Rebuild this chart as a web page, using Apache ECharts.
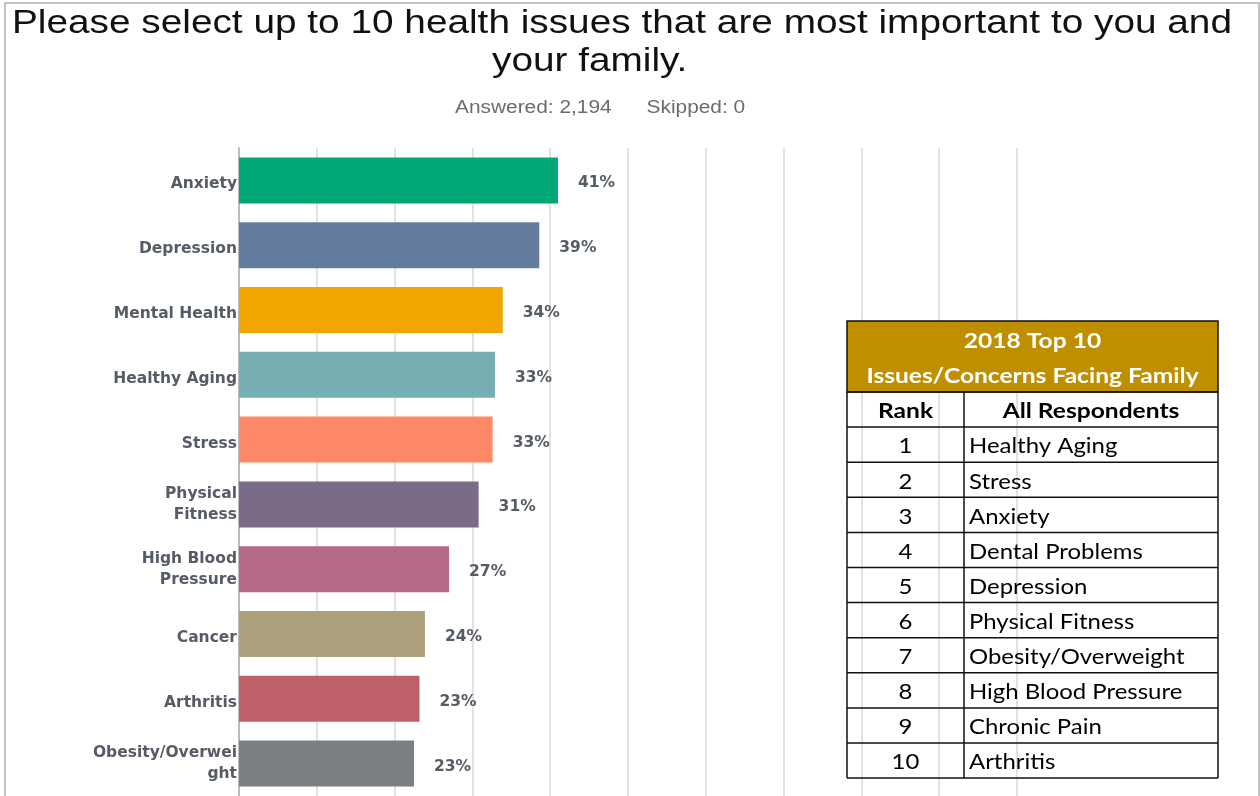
<!DOCTYPE html>
<html>
<head>
<meta charset="utf-8">
<script src="https://cdn.jsdelivr.net/npm/echarts@6/dist/echarts.min.js"></script>
<style>
html,body{margin:0;padding:0;background:#fff;}
#chart{width:1260px;height:796px;}
</style>
</head>
<body>
<div id="chart"></div>
<script>
// ---- data ----
var categories = ['Anxiety','Depression','Mental Health','Healthy Aging','Stress','Physical\nFitness','High Blood\nPressure','Cancer','Arthritis','Obesity/Overwei\nght'];
var values = [41.0, 38.6, 33.9, 32.9, 32.6, 30.8, 27.0, 23.9, 23.2, 22.5];
var barColors = ['#00a878','#647d9f','#f0a500','#76aeb2','#ff8866','#7c6b87','#b66a87','#ab9f7c','#bf616a','#7b8084'];
var titleLine1 = 'Please select up to 10 health issues that are most important to you and';
var titleLine2 = 'your family.';
var subtitle = 'Answered: 2,194      Skipped: 0';
var tableTitle1 = '2018 Top 10';
var tableTitle2 = 'Issues/Concerns Facing Family';
var tableHeaders = ['Rank','All Respondents'];
var ranks = ['1','2','3','4','5','6','7','8','9','10'];
var rankItems = ['Healthy Aging','Stress','Anxiety','Dental Problems','Depression','Physical Fitness','Obesity/Overweight','High Blood Pressure','Chronic Pain','Arthritis'];

// ---- table graphic ----
var tX0 = 847, tX1 = 1218, tXm = 964, tY0 = 321, tYh = 392, rowH = 35.1;
var g = [];
var tFont = 'Lato, "Open Sans", sans-serif';
// frame
g.push({type:'rect', shape:{x:5,y:3,width:1254,height:800}, style:{fill:'none',stroke:'#c4c4c4',lineWidth:2}, z:1});
// titles
g.push({type:'text', x:12, y:7, scaleX:1.175, style:{text:titleLine1, font:'33px "Liberation Sans", Arial, sans-serif', fill:'#111', verticalAlign:'top'}});
g.push({type:'text', x:492, y:45, scaleX:1.175, style:{text:titleLine2, font:'33px "Liberation Sans", Arial, sans-serif', fill:'#111', verticalAlign:'top'}});
g.push({type:'text', x:455, y:99, scaleX:1.16, style:{text:subtitle, font:'18px "Liberation Sans", Arial, sans-serif', fill:'#6b6b6b', verticalAlign:'top'}});
// header
g.push({type:'rect', shape:{x:tX0,y:tY0,width:tX1-tX0,height:tYh-tY0}, style:{fill:'#bf8f00',stroke:'#111',lineWidth:1.5}, z:10});
g.push({type:'text', x:(tX0+tX1)/2, y:341, scaleX:1.17, style:{text:tableTitle1, font:'bold 21px '+tFont, fill:'#fff', align:'center', verticalAlign:'middle'}, z:11});
g.push({type:'text', x:(tX0+tX1)/2, y:376, scaleX:1.17, style:{text:tableTitle2, font:'bold 21px '+tFont, fill:'#fff', align:'center', verticalAlign:'middle'}, z:11});
var nRows = ranks.length + 1;
for (var i = 0; i <= nRows; i++) {
  var y = tYh + i*rowH;
  g.push({type:'line', shape:{x1:tX0,y1:y,x2:tX1,y2:y}, style:{stroke:'#111',lineWidth:1.5}, z:10});
}
var tY1 = tYh + nRows*rowH;
g.push({type:'line', shape:{x1:tX0,y1:tYh,x2:tX0,y2:tY1}, style:{stroke:'#111',lineWidth:1.5}, z:10});
g.push({type:'line', shape:{x1:tX1,y1:tYh,x2:tX1,y2:tY1}, style:{stroke:'#111',lineWidth:1.5}, z:10});
g.push({type:'line', shape:{x1:tXm,y1:tYh,x2:tXm,y2:tY1}, style:{stroke:'#111',lineWidth:1.5}, z:10});
g.push({type:'text', x:(tX0+tXm)/2, y:tYh+rowH/2+2, scaleX:1.17, style:{text:tableHeaders[0], font:'bold 21px '+tFont, fill:'#000', align:'center', verticalAlign:'middle'}, z:11});
g.push({type:'text', x:(tXm+tX1)/2, y:tYh+rowH/2+2, scaleX:1.17, style:{text:tableHeaders[1], font:'bold 21px '+tFont, fill:'#000', align:'center', verticalAlign:'middle'}, z:11});
for (var r = 0; r < ranks.length; r++) {
  var cy = tYh + (r+1)*rowH + rowH/2 + 2;
  g.push({type:'text', x:(tX0+tXm)/2, y:cy, scaleX:1.14, style:{text:ranks[r], font:'21px '+tFont, fill:'#000', align:'center', verticalAlign:'middle'}, z:11});
  g.push({type:'text', x:tXm+5, y:cy, scaleX:1.14, style:{text:rankItems[r], font:'21px '+tFont, fill:'#000', align:'left', verticalAlign:'middle'}, z:11});
}

var labelStyle = {color:'#565c66', fontFamily:'"DejaVu Sans", sans-serif', fontWeight:'bold', fontSize:15.5, lineHeight:21, align:'right'};
var chart = echarts.init(document.getElementById('chart'), null, {renderer:'canvas'});
chart.setOption({
  animation:false,
  backgroundColor:'#fff',
  grid:{left:239, right:243, top:148, bottom:0, containLabel:false},
  xAxis:{type:'value', min:0, max:100, interval:10,
    axisLabel:{show:false}, axisLine:{show:false}, axisTick:{show:false},
    splitLine:{show:true, lineStyle:{color:'#e2e2e2', width:2}}},
  yAxis:{type:'category', data:categories, inverse:true,
    axisLine:{show:true, lineStyle:{color:'#bcbcbc', width:2}},
    axisTick:{show:false},
    axisLabel:{margin:2, align:'right', color:'#565c66', fontFamily:'"DejaVu Sans", sans-serif', fontWeight:'bold', fontSize:15.5, lineHeight:21,
      formatter:function(v){
        return v.indexOf('\n') < 0 ? '{f|' + v + '}' : v;
      },
      rich:{
        f:Object.assign({padding:[8,0,0,0]}, labelStyle)
      }}},
  series:[{type:'bar', barWidth:'71%',
    data: values.map(function(v,i){return {value:v, itemStyle:{color:barColors[i]}};}),
    label:{show:true, position:'right', distance:20, offset:[0,3], color:'#565c66', fontFamily:'"DejaVu Sans", sans-serif', fontWeight:'bold', fontSize:15.5,
      formatter:function(p){return Math.round(p.value)+'%';}}
  }],
  graphic:g
});
</script>
</body>
</html>
